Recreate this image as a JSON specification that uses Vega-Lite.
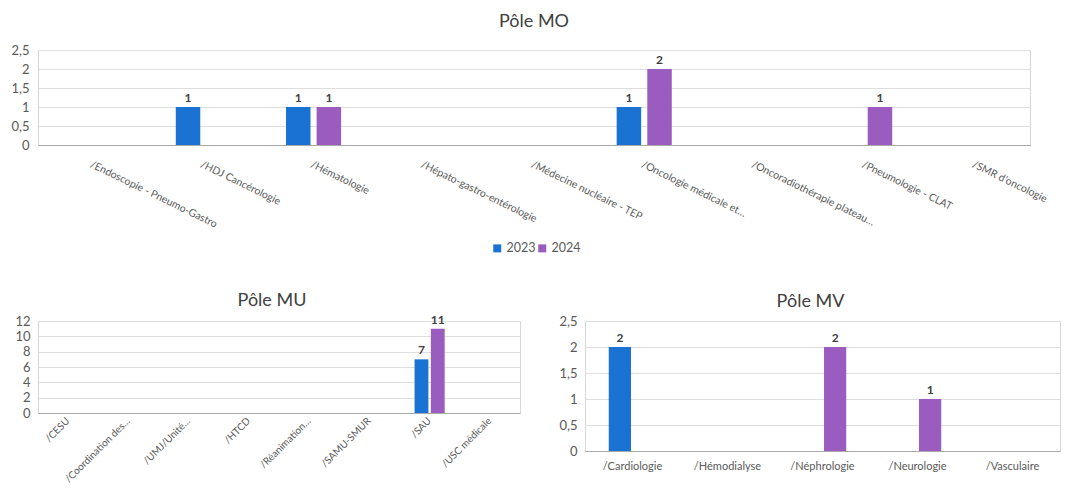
{
  "$schema": "https://vega.github.io/schema/vega-lite/v6.json",
  "padding": {"left": 10, "top": 12, "right": 5, "bottom": 0},
  "background": "white",
  "config": {
    "font": "Lato",
    "view": {"stroke": "#d6d6d6"},
    "axis": {"labelColor": "#595959", "gridColor": "#dedede", "domainColor": "#a8a8a8", "ticks": false, "title": null, "labelFont": "Lato"},
    "title": {"fontSize": 18, "fontWeight": "normal", "color": "#404040", "font": "Lato"},
    "legend": {"labelFont": "Lato"}
  },
  "datasets": {
    "mo": [
      {"service": "/HDJ Cancérologie", "annee": "2023", "n": 1},
      {"service": "/Hématologie", "annee": "2023", "n": 1},
      {"service": "/Hématologie", "annee": "2024", "n": 1},
      {"service": "/Oncologie médicale et…", "annee": "2023", "n": 1},
      {"service": "/Oncologie médicale et…", "annee": "2024", "n": 2},
      {"service": "/Pneumologie - CLAT", "annee": "2024", "n": 1}
    ],
    "mu": [
      {"service": "/SAU", "annee": "2023", "n": 7},
      {"service": "/SAU", "annee": "2024", "n": 11}
    ],
    "mv": [
      {"service": "/Cardiologie", "annee": "2023", "n": 2},
      {"service": "/Néphrologie", "annee": "2024", "n": 2},
      {"service": "/Neurologie", "annee": "2024", "n": 1}
    ]
  },
  "spacing": 35,
  "vconcat": [
    {
      "title": {"text": "Pôle MO", "offset": 13},
      "width": 992,
      "height": 95,
      "data": {"name": "mo"},
      "encoding": {
        "x": {
          "field": "service", "type": "nominal",
          "scale": {"domain": ["/Endoscopie - Pneumo-Gastro", "/HDJ Cancérologie", "/Hématologie", "/Hépato-gastro-entérologie", "/Médecine nucléaire - TEP", "/Oncologie médicale et…", "/Oncoradiothérapie plateau…", "/Pneumologie - CLAT", "/SMR d'oncologie"], "paddingInner": 0.5, "paddingOuter": 0.25},
          "axis": {"labelAngle": 26, "labelAlign": "left", "labelBaseline": "top", "labelPadding": 14, "labelFontSize": 10.5, "labelLimit": 300}
        },
        "xOffset": {"field": "annee", "type": "nominal", "scale": {"domain": ["2023", "2024"], "paddingInner": 0.2, "paddingOuter": 0}},
        "y": {
          "field": "n", "type": "quantitative",
          "scale": {"domain": [0, 2.5]},
          "axis": {"values": [0, 0.5, 1, 1.5, 2, 2.5], "labelExpr": "replace(format(datum.value, '~g'), '.', ',')", "domain": false, "labelPadding": 9, "labelFontSize": 13}
        },
        "color": {
          "field": "annee", "type": "nominal",
          "scale": {"domain": ["2023", "2024"], "range": ["#1a72d2", "#9b5cbf"]},
          "legend": {"orient": "none", "legendX": 453, "legendY": 192, "direction": "horizontal", "title": null, "symbolType": "square", "symbolSize": 64, "labelFontSize": 12.5, "labelColor": "#595959", "columnPadding": 0, "symbolStrokeWidth": 0, "labelOffset": 3}
        }
      },
      "layer": [
        {"mark": {"type": "bar"}},
        {"mark": {"type": "text", "dy": -9, "fontWeight": "bold", "fontSize": 12, "font": "Lato"}, "encoding": {"text": {"field": "n", "type": "quantitative"}, "color": {"value": "#404040"}}}
      ]
    },
    {
      "spacing": 33,
      "hconcat": [
        {
          "title": {"text": "Pôle MU", "offset": 4, "dx": -7},
          "width": 482,
          "height": 92,
          "data": {"name": "mu"},
          "encoding": {
            "x": {
              "field": "service", "type": "nominal",
              "scale": {"domain": ["/CESU", "/Coordination des…", "/UMJ/Unité…", "/HTCD", "/Réanimation…", "/SAMU-SMUR", "/SAU", "/USC médicale"], "paddingInner": 0.5, "paddingOuter": 0.25},
              "axis": {"labelAngle": -45, "labelAlign": "right", "labelBaseline": "middle", "labelPadding": 6, "labelFontSize": 10, "labelLimit": 200}
            },
            "xOffset": {"field": "annee", "type": "nominal", "scale": {"domain": ["2023", "2024"], "paddingInner": 0.15, "paddingOuter": 0}},
            "y": {
              "field": "n", "type": "quantitative",
              "scale": {"domain": [0, 12]},
              "axis": {"values": [0, 2, 4, 6, 8, 10, 12], "domain": false, "labelPadding": 8, "labelFontSize": 13}
            },
            "color": {
              "field": "annee", "type": "nominal",
              "scale": {"domain": ["2023", "2024"], "range": ["#1a72d2", "#9b5cbf"]},
              "legend": null
            }
          },
          "layer": [
            {"mark": {"type": "bar"}},
            {"mark": {"type": "text", "dy": -9, "fontWeight": "bold", "fontSize": 12, "font": "Lato"}, "encoding": {"text": {"field": "n", "type": "quantitative"}, "color": {"value": "#404040"}}}
          ]
        },
        {
          "title": {"text": "Pôle MV", "offset": 4, "dx": -12},
          "width": 475,
          "height": 130,
          "data": {"name": "mv"},
          "encoding": {
            "x": {
              "field": "service", "type": "nominal",
              "scale": {"domain": ["/Cardiologie", "/Hémodialyse", "/Néphrologie", "/Neurologie", "/Vasculaire"], "paddingInner": 0.5, "paddingOuter": 0.25},
              "axis": {"labelAngle": 0, "labelPadding": 9, "labelFontSize": 11}
            },
            "xOffset": {"field": "annee", "type": "nominal", "scale": {"domain": ["2023", "2024"], "paddingInner": 0.12, "paddingOuter": 0}},
            "y": {
              "field": "n", "type": "quantitative",
              "scale": {"domain": [0, 2.5]},
              "axis": {"values": [0, 0.5, 1, 1.5, 2, 2.5], "labelExpr": "replace(format(datum.value, '~g'), '.', ',')", "domain": false, "labelPadding": 8, "labelFontSize": 13, "minExtent": 30}
            },
            "color": {
              "field": "annee", "type": "nominal",
              "scale": {"domain": ["2023", "2024"], "range": ["#1a72d2", "#9b5cbf"]},
              "legend": null
            }
          },
          "layer": [
            {"mark": {"type": "bar"}},
            {"mark": {"type": "text", "dy": -9, "fontWeight": "bold", "fontSize": 12, "font": "Lato"}, "encoding": {"text": {"field": "n", "type": "quantitative"}, "color": {"value": "#404040"}}}
          ]
        }
      ],
      "resolve": {"scale": {"x": "independent", "y": "independent", "color": "independent", "xOffset": "independent"}}
    }
  ],
  "resolve": {"scale": {"x": "independent", "y": "independent", "color": "independent", "xOffset": "independent"}}
}
